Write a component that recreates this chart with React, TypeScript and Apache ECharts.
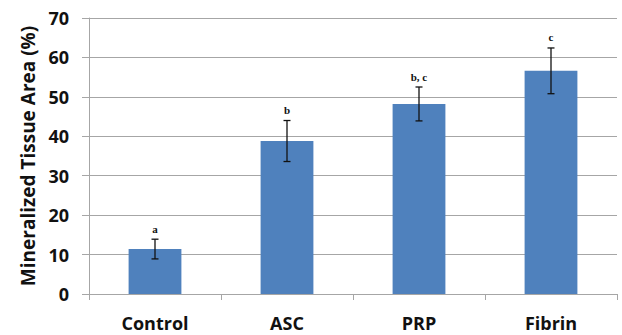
import React, { useEffect, useRef } from "react";
import * as echarts from "echarts";

const categories = ["Control", "ASC", "PRP", "Fibrin"];
const means = [11.4, 38.8, 48.2, 56.6];
const errors = [2.5, 5.2, 4.3, 5.8];
const letters = ["a", "b", "b, c", "c"];
const yTicks = [0, 10, 20, 30, 40, 50, 60, 70];

export default function App() {
  const ref = useRef<HTMLDivElement>(null);
  useEffect(() => {
    if (!ref.current) return;
    const chart = echarts.init(ref.current, undefined, { renderer: "svg" });
    const errData = means.map((m, i) => [i, m - errors[i], m + errors[i], letters[i]]);
    chart.setOption({
      animation: false,
      grid: { left: 89, right: 5, top: 18, bottom: 41, containLabel: false },
      xAxis: {
        type: "category",
        data: categories,
        axisLine: { lineStyle: { color: "#a6a6a6", width: 1 } },
        axisTick: { show: true, length: 6, lineStyle: { color: "#a6a6a6" } },
        axisLabel: {
          margin: 20,
          color: "#111",
          fontFamily: "Open Sans",
          fontWeight: "bold",
          fontSize: 18,
        },
      },
      yAxis: {
        type: "value",
        min: yTicks[0],
        max: yTicks[yTicks.length - 1],
        interval: 10,
        name: "Mineralized Tissue Area (%)",
        nameLocation: "middle",
        nameGap: 52,
        nameRotate: 90,
        nameTextStyle: {
          color: "#111",
          fontFamily: "Open Sans",
          fontWeight: "bold",
          fontSize: 19,
        },
        axisLine: { show: true, lineStyle: { color: "#a6a6a6", width: 1 } },
        axisTick: { show: true, inside: false, length: 7, lineStyle: { color: "#a6a6a6" } },
        splitLine: { show: true, lineStyle: { color: "#a6a6a6", width: 1 } },
        axisLabel: {
          margin: 20,
          color: "#111",
          fontFamily: "Open Sans",
          fontWeight: "bold",
          fontSize: 18,
        },
      },
      series: [
        {
          type: "bar",
          data: means,
          barWidth: "40%",
          itemStyle: { color: "#4f81bd" },
        },
        {
          type: "custom",
          data: errData,
          z: 10,
          renderItem: (params: any, api: any) => {
            const x = api.value(0);
            const lo = api.coord([x, api.value(1)]);
            const hi = api.coord([x, api.value(2)]);
            const hw = 3.5;
            const style = { stroke: "#111", lineWidth: 1.3 };
            return {
              type: "group",
              children: [
                { type: "line", shape: { x1: lo[0], y1: lo[1], x2: hi[0], y2: hi[1] }, style },
                { type: "line", shape: { x1: lo[0] - hw, y1: lo[1], x2: lo[0] + hw, y2: lo[1] }, style },
                { type: "line", shape: { x1: hi[0] - hw, y1: hi[1], x2: hi[0] + hw, y2: hi[1] }, style },
                {
                  type: "text",
                  style: {
                    x: hi[0],
                    y: hi[1] - 5,
                    text: api.value(3),
                    textAlign: "center",
                    textVerticalAlign: "bottom",
                    fill: "#111",
                    font: "bold 11px 'Liberation Serif', serif",
                  },
                },
              ],
            };
          },
        },
      ],
    });
    return () => chart.dispose();
  }, []);
  return <div ref={ref} style={{ width: 622, height: 335, position: "absolute", left: 0, top: 0, background: "#fff" }} />;
}
